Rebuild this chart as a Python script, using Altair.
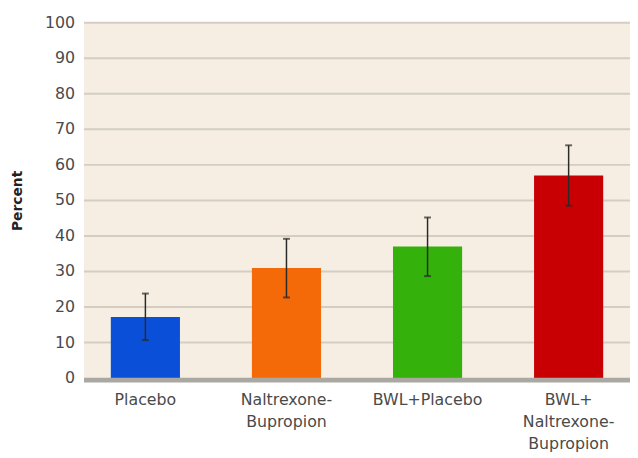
import json
import altair as alt
import pandas as pd

label_lines = [["Placebo"], ["Naltrexone-", "Bupropion"], ["BWL+Placebo"], ["BWL+", "Naltrexone-", "Bupropion"]]
categories = ["".join(l) for l in label_lines]
values = [17.2, 31.0, 37.0, 57.0]
err_low = [10.7, 22.7, 28.7, 48.5]
err_high = [23.8, 39.2, 45.2, 65.5]
colors = ["#0a4fd8", "#f56a08", "#35b10c", "#c80003"]
y_ticks = [0, 10, 20, 30, 40, 50, 60, 70, 80, 90, 100]

df = pd.DataFrame({"cat": categories, "value": values, "lo": err_low, "hi": err_high, "color": colors})
ticks_df = pd.DataFrame({"t": y_ticks})

mapping = {c: l for c, l in zip(categories, label_lines)}
label_expr = f"{json.dumps(mapping)}[datum.value]"

FONT = "DejaVu Sans"
W, H = 553, 360

x = alt.X("cat:N", sort=categories, title=None,
          scale=alt.Scale(paddingInner=0.51, paddingOuter=0.19),
          axis=alt.Axis(labelExpr=label_expr, labelAngle=0, labelFontSize=16, labelFont=FONT,
                        labelColor="#4a4a4a", labelPadding=14, labelLineHeight=22,
                        labelOverlap=False, labelLimit=200,
                        domain=False, ticks=False, grid=False))

y_axis = alt.Axis(labels=False, domain=False, ticks=False, grid=False, title="Percent", titleFont=FONT,
                  titleFontSize=14, titleFontWeight="bold", titleColor="#222", titleX=-60, titleY=180)
y_scale = alt.Scale(domain=[0, 100], nice=False)


def Y(field):
    return alt.Y(field, type="quantitative", scale=y_scale, axis=y_axis, title="Percent")


grid = alt.Chart(ticks_df).transform_filter("datum.t > 0").mark_rule(
    color="#d3cdc2", strokeWidth=2).encode(y=Y("t"), x=alt.value(0), x2=alt.value(W))

tick_labels = alt.Chart(ticks_df).mark_text(
    align="right", baseline="middle", dx=-9, fontSize=16, font=FONT, color="#4a4a4a").encode(
    y=Y("t"), x=alt.value(0), text="t:Q")

bars = alt.Chart(df).mark_bar().encode(
    x=x,
    y=Y("value"),
    color=alt.Color("color:N", scale=None),
)

rules = alt.Chart(df).mark_rule(color="#2a2a2a", strokeWidth=1.5).encode(
    x=x, y=Y("lo"), y2="hi:Q")

caps_hi = alt.Chart(df).mark_tick(color="#2a2a2a", size=7, thickness=2).encode(
    x=x, y=Y("hi"))
caps_lo = alt.Chart(df).mark_tick(color="#2a2a2a", size=7, thickness=2).encode(
    x=x, y=Y("lo"))

zero = alt.Chart(pd.DataFrame({"z": [0]})).mark_rule(color="#a9a8a2", strokeWidth=5, yOffset=2).encode(
    y=Y("z"), x=alt.value(0), x2=alt.value(W))

chart = alt.layer(grid, tick_labels, bars, rules, caps_hi, caps_lo, zero).properties(
    width=W, height=H,
    autosize=alt.AutoSizeParams(type="none"),
    padding={"left": 77, "top": 12, "right": 0, "bottom": 78},
    background="white",
).configure_view(fill="#f6eee3", stroke=None)

chart.save("out.html", embed_options={"renderer": "svg", "actions": False})
